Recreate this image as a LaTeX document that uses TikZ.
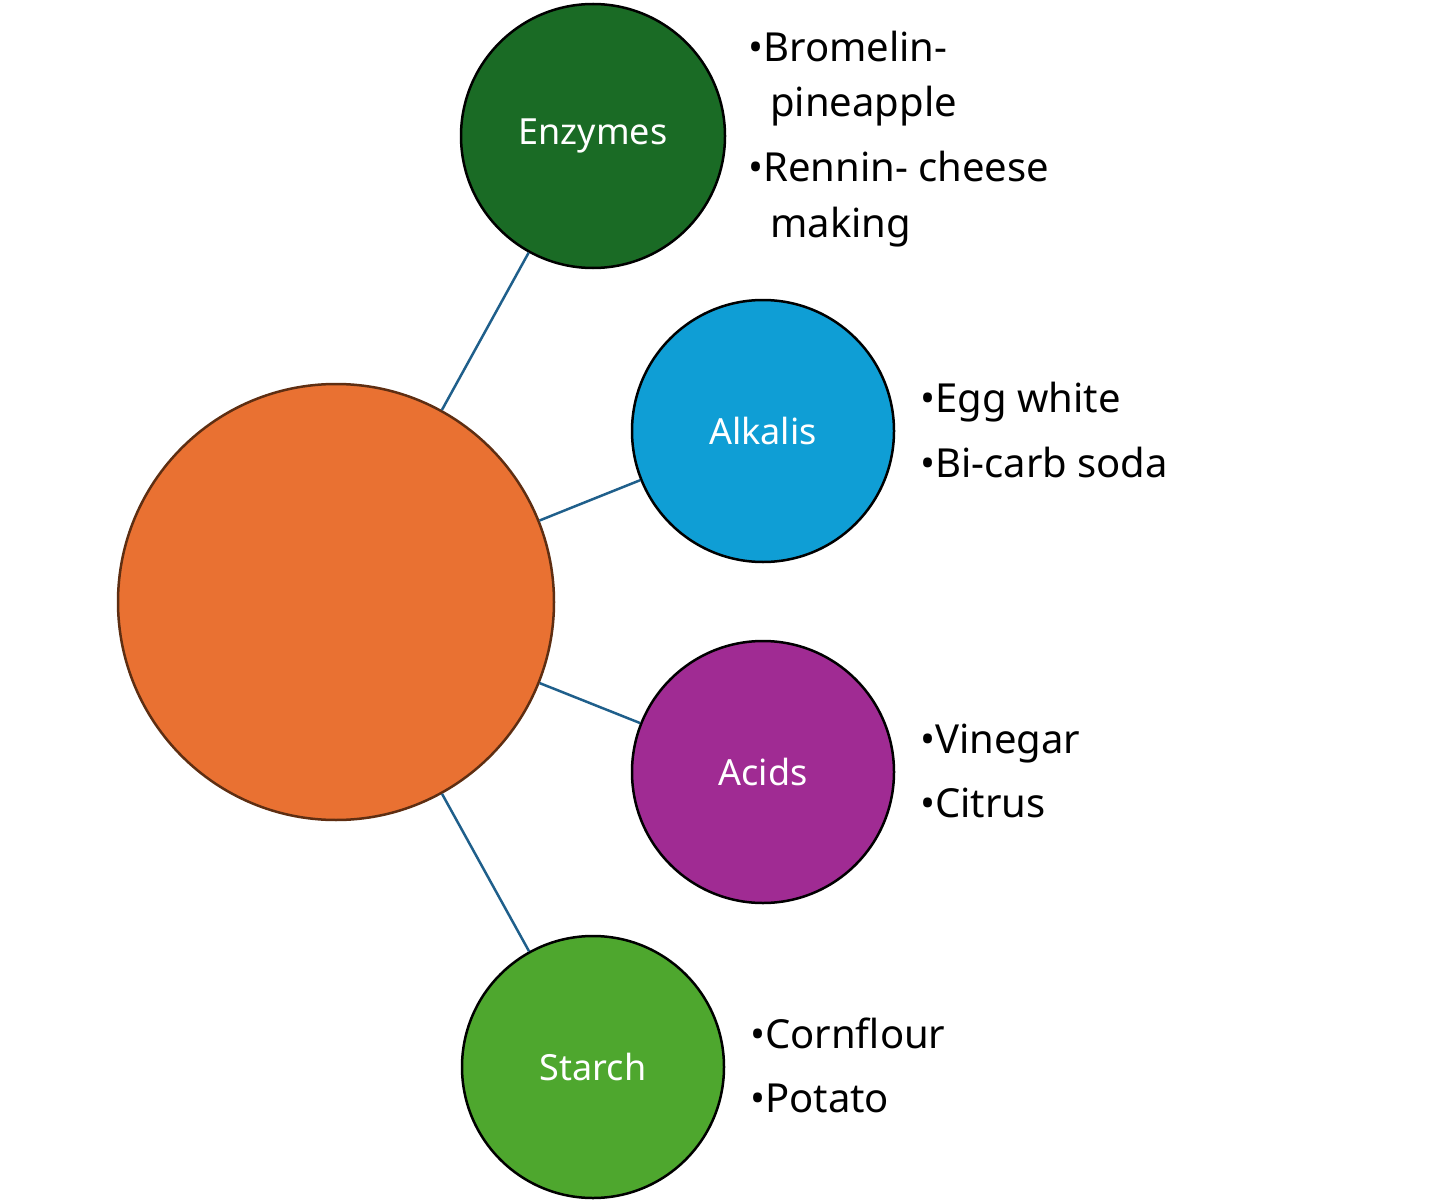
\documentclass[tikz,border=0pt]{standalone}
\usepackage{fontspec}
\setmainfont{Noto Sans}
\begin{document}
\begin{tikzpicture}[x=1pt,y=-1pt,
  circ/.style={circle,draw=black,line width=2.5pt,inner sep=0pt,text=white,font=\fontsize{36}{40}\selectfont},
  link/.style={draw=black!30!blue!50!teal,line width=2.5pt,color={rgb,255:red,31;green,95;blue,139}},
  bl/.style={anchor=base west,inner sep=0pt,font=\fontsize{40}{44}\selectfont}]
\useasboundingbox (0,0) rectangle (1430,1201);
\definecolor{org}{HTML}{E97132}
\node[circ,fill=org,draw={rgb,255:red,94;green,46;blue,18},minimum size=436pt] (big) at (336,602) {};
\node[circ,fill={rgb,255:red,26;green,107;blue,37},minimum size=264pt] (enz) at (593,136) {Enzymes};
\node[circ,fill={rgb,255:red,15;green,158;blue,213},minimum size=262pt] (alk) at (763,431) {Alkalis};
\node[circ,fill={rgb,255:red,160;green,43;blue,147},minimum size=262pt] (acid) at (763,772) {Acids};
\node[circ,fill={rgb,255:red,78;green,167;blue,46},minimum size=262pt] (sta) at (593,1067) {Starch};
\draw[link] (big) -- (enz);
\draw[link] (big) -- (alk);
\draw[link] (big) -- (acid);
\draw[link] (big) -- (sta);
\node[bl] (e1) at (748,62) {•Bromelin-};
\node[bl] (e2) at (770,117) {pineapple};
\node[bl] (e3) at (748,182) {•Rennin- cheese};
\node[bl] (e4) at (770,237) {making};
\node[bl] (a1) at (920,412) {•Egg white};
\node[bl] (a2) at (920,477) {•Bi-carb soda};
\node[bl] (c1) at (920,753) {•Vinegar};
\node[bl] (c2) at (920,817) {•Citrus};
\node[bl] (s1) at (750,1048) {•Cornflour};
\node[bl] (s2) at (750,1112) {•Potato};
\end{tikzpicture}
\end{document}
